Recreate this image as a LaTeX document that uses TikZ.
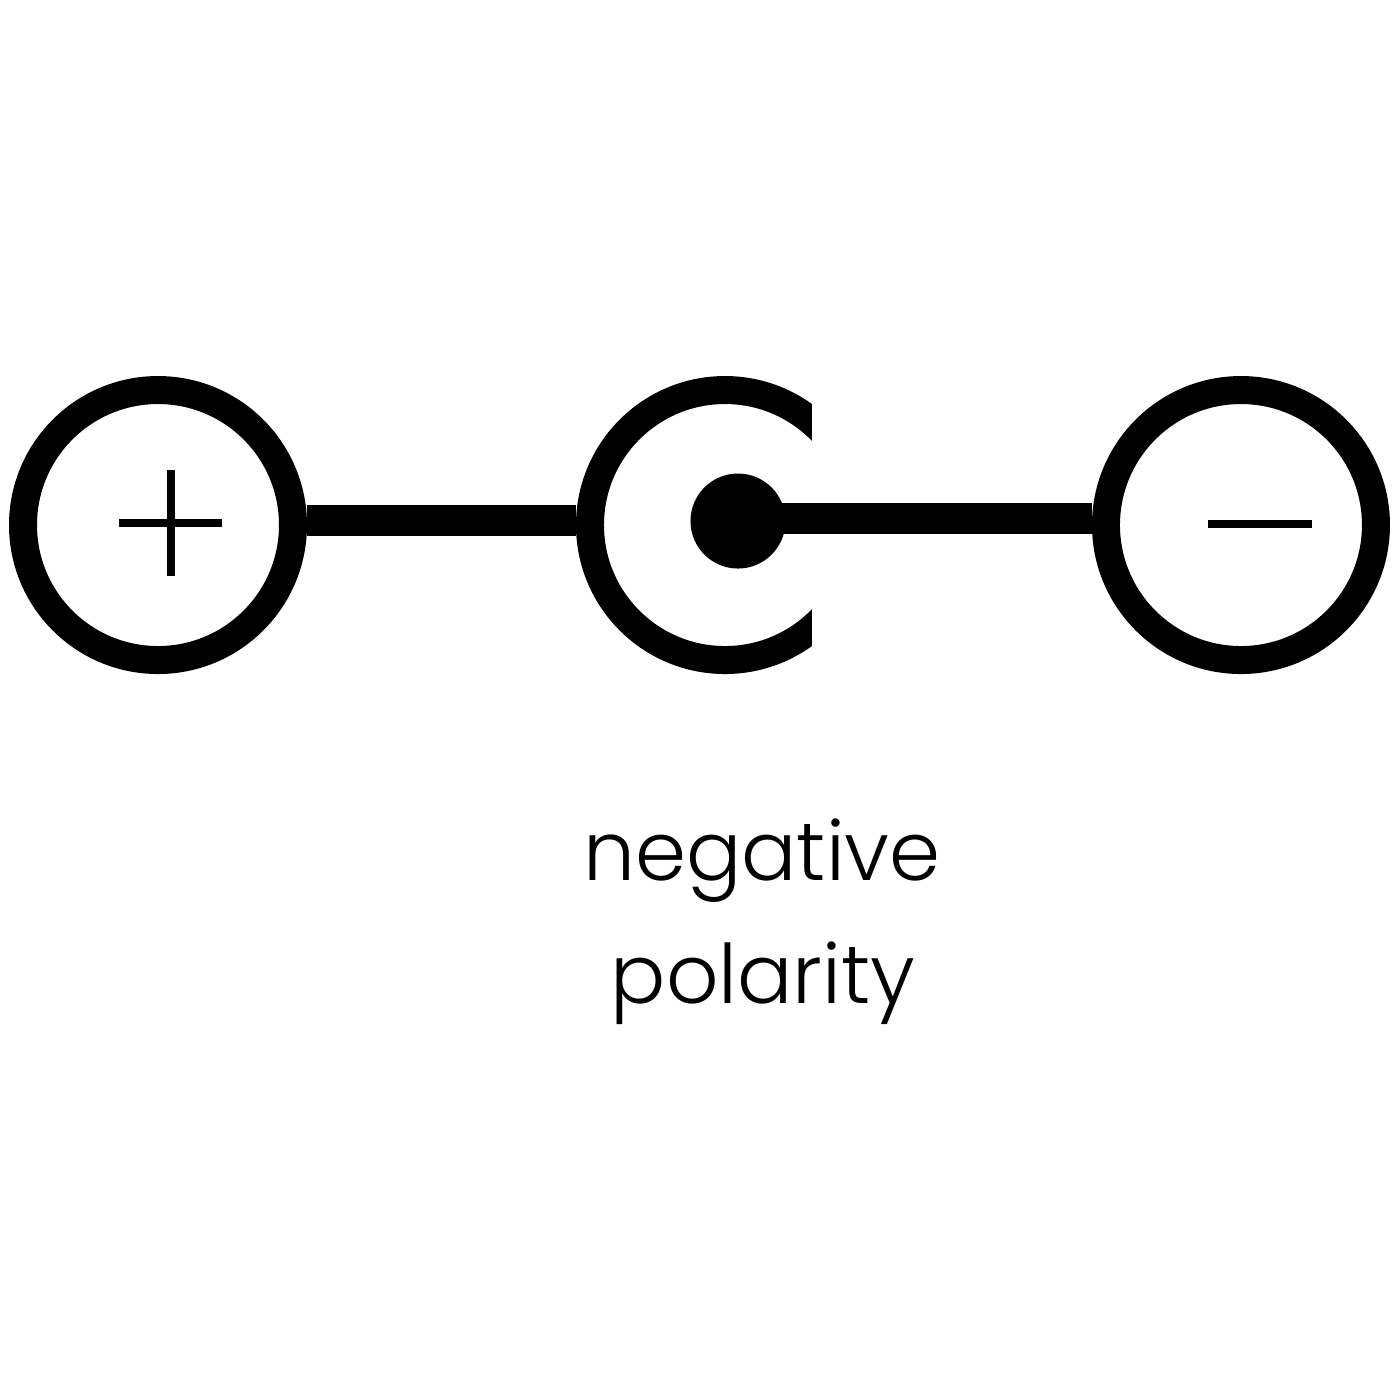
\documentclass[tikz,border=0pt]{standalone}
\usepackage{fontspec}
\setmainfont{Poppins Light}
\newdimen\u
\u=0.1pt
\tikzset{
  ring/.style={circle,draw=black,line width=28\u,minimum size=270\u,inner sep=0pt},
  wire/.style={draw=black,line width=31\u},
  sign/.style={draw=black,line width=8\u},
  lbl/.style={font=\fontsize{8.2}{10}\selectfont, text=black, inner sep=0pt, anchor=base}
}
\begin{document}
\begin{tikzpicture}[x=0.1pt,y=-0.1pt]
\useasboundingbox (0,0) rectangle (1400,1400);
\fill[white] (0,0) rectangle (1400,1400);
\node[ring] (plus) at (158,525) {};
\node[ring] (minus) at (1241,525) {};
\begin{scope}
\clip (500,300) rectangle (812,750);
\node[ring] (jack) at (725,525) {};
\end{scope}
\node[circle,fill=black,minimum size=95\u,inner sep=0pt] (pin) at (738,521) {};
\coordinate (ly) at (450,520);
\coordinate (ry) at (950,518);
\draw[wire] (plus.east |- ly) -- (jack.west |- ly);
\draw[wire] (pin.center |- ry) -- (minus.west |- ry);
\coordinate (p1) at (119,523); \coordinate (p2) at (222,523);
\coordinate (p3) at (171,470); \coordinate (p4) at (171,576);
\draw[sign] (p1) -- (p2);
\draw[sign] (p3) -- (p4);
\coordinate (m1) at (1208,524); \coordinate (m2) at (1312,524);
\draw[sign] (m1) -- (m2);
\node[lbl] (t1) at (762,880) {negative};
\node[lbl] (t2) at (763,1003) {polarity};
\end{tikzpicture}
\end{document}
